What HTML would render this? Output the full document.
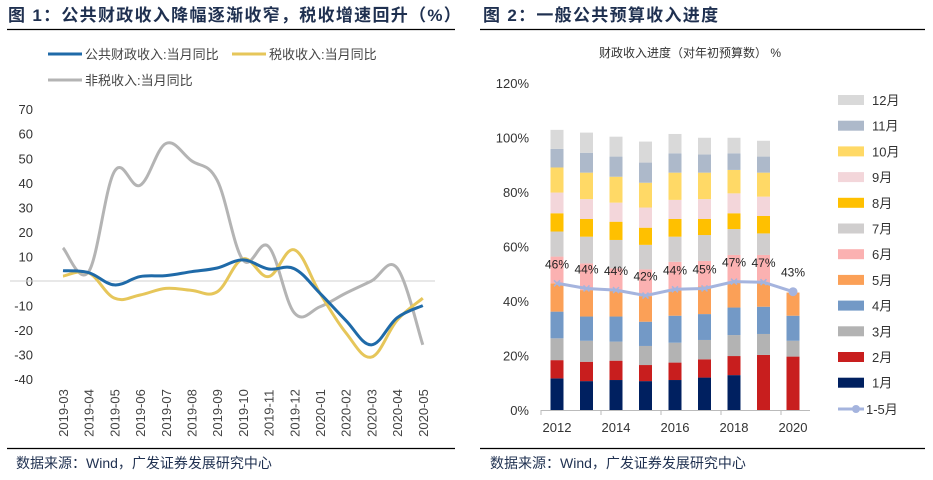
<!DOCTYPE html>
<html><head><meta charset="utf-8"><style>
body{margin:0;width:933px;height:480px;background:#fff;overflow:hidden;font-family:"Liberation Sans","Noto Sans CJK SC",sans-serif}
svg{display:block}
</style></head><body>
<svg id="s" width="933" height="480" xmlns="http://www.w3.org/2000/svg">
<text x="8" y="21" font-size="17" font-weight="bold" letter-spacing="1.3" fill="#1f3050" font-family="Liberation Sans,Noto Sans CJK SC,sans-serif">图 1：公共财政收入降幅逐渐收窄，税收增速回升（%）</text>
<line x1="7" y1="29.5" x2="455" y2="29.5" stroke="#000" stroke-width="1.3"/>
<text x="483" y="21" font-size="17" font-weight="bold" letter-spacing="1.3" fill="#1f3050" font-family="Liberation Sans,Noto Sans CJK SC,sans-serif">图 2：一般公共预算收入进度</text>
<line x1="480" y1="29.5" x2="925" y2="29.5" stroke="#000" stroke-width="1.3"/>
<line x1="7" y1="448.5" x2="455" y2="448.5" stroke="#000" stroke-width="1.3"/>
<line x1="480" y1="448.5" x2="925" y2="448.5" stroke="#000" stroke-width="1.3"/>
<text x="16" y="468" font-size="14" fill="#1f3050" font-family="Liberation Sans,Noto Sans CJK SC,sans-serif">数据来源：Wind，广发证券发展研究中心</text>
<text x="490" y="468" font-size="14" fill="#1f3050" font-family="Liberation Sans,Noto Sans CJK SC,sans-serif">数据来源：Wind，广发证券发展研究中心</text>
<g id="left"></g><g id="right"></g>
</svg>
<script>
// ---------- left chart data ----------
const months=["2019-03","2019-04","2019-05","2019-06","2019-07","2019-08","2019-09","2019-10","2019-11","2019-12","2020-01","2020-02","2020-03","2020-04","2020-05"];
const publicRev=[4.2,3.4,-1.6,1.8,2.2,3.8,5.3,8.6,4.9,5,-5,-16,-26,-15,-10];
const taxRev=[2,3.3,-7,-5.7,-3,-3.8,-4.4,9,1.8,12.7,-5,-21,-31,-16,-7];
const nonTaxRev=[13.5,3.8,44.6,39,56,49,41,8.6,14,-13,-10.5,-5,0,5.3,-26];
const leftTicks=[70,60,50,40,30,20,10,0,-10,-20,-30,-40];
const leftSeriesNames=["公共财政收入:当月同比","税收收入:当月同比","非税收入:当月同比"];
// ---------- right chart data ----------
const years=[2012,2013,2014,2015,2016,2017,2018,2019,2020];
const monthNames=["1月","2月","3月","4月","5月","6月","7月","8月","9月","10月","11月","12月"];
const cumProgress=[
[11.6,18.3,26.3,36.1,46.5,56.3,65.5,72.2,79.8,89,95.8,102.8],
[10.6,17.7,25.4,34.3,44,53.8,63.6,70.1,77.4,87.1,94.4,101.8],
[11,18.1,25.1,34.3,44,52,62.4,69.1,76.1,85.6,93,100.3],
[10.6,16.5,23.5,32.4,41.8,51.6,60.6,66.9,74.3,83.4,90.8,98.5],
[11,17.4,24.7,34.6,44,54.4,63.6,70.1,77.1,87.1,94.2,101.3],
[11.9,18.6,25.7,35.2,45.3,54.7,64.2,70.1,77.4,87.1,93.8,99.9],
[12.8,19.8,27.5,37.6,46.9,56.9,66.4,72.2,79.5,88.1,94.2,99.9],
[0,20.2,27.9,37.9,46.9,56.9,64.8,71.2,78.3,87.1,93,98.8],
[0,19.6,25.4,34.6,43.1]];
const jan2may=[46.5,44.6,44,42,44.3,44.6,47.1,46.9,43.4];
const jan2mayLabels=["46%","44%","44%","42%","44%","45%","47%","47%","43%"];
const rightTicks=[0,20,40,60,80,100,120];
const xLabelYears=[2012,2014,2016,2018,2020];

const NS="http://www.w3.org/2000/svg";
function mk(tag,attrs,parent,txt){const e=document.createElementNS(NS,tag);for(const k in attrs)e.setAttribute(k,attrs[k]);if(txt!==undefined)e.textContent=txt;parent.appendChild(e);return e;}
const FONT="Liberation Sans,Noto Sans CJK SC,sans-serif";

// left
const L=document.getElementById('left');
const ly=v=>281-v*2.4545;
const lx=i=>63+i*25.7;
leftTicks.forEach(t=>{const e=mk('text',{x:33,y:ly(t)+5,'font-size':13,fill:'#333','text-anchor':'end','font-family':FONT},L,String(t));

});
const zl=mk('line',{x1:10,x2:435,y1:ly(0),y2:ly(0),stroke:'#d0d0d0','stroke-width':1},L);


months.forEach((m,i)=>{const x=lx(i)+5,y=413;const e=mk('text',{x:x,y:y,'font-size':13,fill:'#444','text-anchor':'middle','font-family':FONT,transform:`rotate(-90 ${x} ${y})`},L,m);

});
function smooth(pts){let d=`M${pts[0][0]},${pts[0][1]}`;for(let i=0;i<pts.length-1;i++){const p0=pts[i-1]||pts[i],p1=pts[i],p2=pts[i+1],p3=pts[i+2]||p2;const t=0.18;const c1=[p1[0]+(p2[0]-p0[0])*t,p1[1]+(p2[1]-p0[1])*t],c2=[p2[0]-(p3[0]-p1[0])*t,p2[1]-(p3[1]-p1[1])*t];d+=`C${c1[0]},${c1[1]} ${c2[0]},${c2[1]} ${p2[0]},${p2[1]}`;}return d;}
const lseries=[[nonTaxRev,'#b4b4b4','non-tax-line'],[taxRev,'#e6c65a','tax-line'],[publicRev,'#1f6aa8','public-revenue-line']];
lseries.forEach(s=>{const p=mk('path',{d:smooth(s[0].map((v,i)=>[lx(i),ly(v)])),fill:'none',stroke:s[1],'stroke-width':3},L);

});
const leg=[[48,54,'#1f6aa8',leftSeriesNames[0]],[232,54,'#e6c65a',leftSeriesNames[1]],[48,80,'#b4b4b4',leftSeriesNames[2]]];
leg.forEach(g=>{const ln=mk('line',{x1:g[0],x2:g[0]+34,y1:g[1],y2:g[1],stroke:g[2],'stroke-width':3},L);


const t=mk('text',{x:g[0]+37,y:g[1]+5,'font-size':13,fill:'#444','font-family':FONT},L,g[3]);

});

// right
const R=document.getElementById('right');
const colors=['#002060','#c81e1e','#b3b3b3','#7399c6','#fba057','#fbb1b1','#d0cece','#ffc000','#f3d6da','#ffd966','#adb9ca','#d9d9d9'];
const ry=v=>410-v*2.725;
const rx=i=>557+i*29.5;
const st=mk('text',{x:690,y:57,'font-size':12,fill:'#333','text-anchor':'middle','font-family':FONT},R,'财政收入进度（对年初预算数） %');


rightTicks.forEach(t=>{const e=mk('text',{x:529,y:ry(t)+5,'font-size':13,fill:'#333','text-anchor':'end','font-family':FONT},R,t+'%');

});
cumProgress.forEach((arr,i)=>{let prev=0;arr.forEach((v,m)=>{if(v>prev){const r=mk('rect',{x:rx(i)-6.5,y:ry(v),width:13,height:ry(prev)-ry(v),fill:colors[m]},R);

}prev=Math.max(prev,v);});});
const ax=mk('line',{x1:541,x2:810,y1:410.5,y2:410.5,stroke:'#bbb','stroke-width':1},R);


[0,2,4,6,8].forEach(k=>{const tk=mk('line',{x1:541+k*30,x2:541+k*30,y1:410,y2:415,stroke:'#bbb'},R);

});
xLabelYears.forEach(y=>{const i=years.indexOf(y);const e=mk('text',{x:rx(i),y:432,'font-size':13,fill:'#333','text-anchor':'middle','font-family':FONT},R,String(y));

});
const lp=mk('path',{d:jan2may.map((v,i)=>(i?'L':'M')+rx(i)+','+ry(v)).join(''),fill:'none',stroke:'#a5b4de','stroke-width':3},R);


jan2may.forEach((v,i)=>{if(i<8){const c=mk('path',{d:`M${rx(i)-3},${ry(v)-3}l6,6m0,-6l-6,6`,stroke:'#a5b4de','stroke-width':1.5},R);

}else{const c=mk('circle',{cx:rx(i),cy:ry(v),r:4.5,fill:'#a5b4de'},R);

}
const t=mk('text',{x:rx(i),y:ry(v)-15,'font-size':12,fill:'#222','text-anchor':'middle','font-family':FONT},R,jan2mayLabels[i]);

});
for(let m=11;m>=0;m--){const y=100+(11-m)*25.7;const r=mk('rect',{x:838,y:y-5,width:26,height:10,fill:colors[m]},R);


const t=mk('text',{x:872,y:y+5,'font-size':13,fill:'#333','font-family':FONT},R,monthNames[m]);

}
const ly2=409;
const ll=mk('line',{x1:838,x2:864,y1:ly2,y2:ly2,stroke:'#a5b4de','stroke-width':3},R);


const lc=mk('circle',{cx:856,cy:ly2,r:4,fill:'#a5b4de'},R);


const lt=mk('text',{x:866,y:ly2+5,'font-size':13,fill:'#333','font-family':FONT},R,'1-5月');


</script>
</body></html>
